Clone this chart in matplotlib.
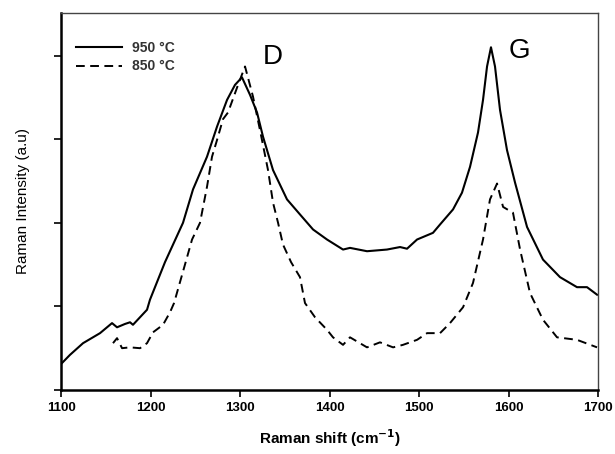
import matplotlib
matplotlib.use("Agg")
import matplotlib.pyplot as plt

plt.rcParams['font.family'] = ['Liberation Sans', 'DejaVu Sans']

# 950 °C spectrum
shift_950 = [1100, 1110, 1124.6, 1143.6, 1157.0, 1162.6, 1171.5, 1177.1, 1180.4, 1196.1,
             1199.4, 1216.2, 1236.3, 1247.5, 1263.1, 1274.3, 1285.5, 1294.4, 1302.2, 1311.2,
             1319.0, 1325.7, 1336.9, 1352.5, 1367.0, 1381.6, 1397.2, 1415.1, 1422.9, 1441.9,
             1464.2, 1478.8, 1486.6, 1497.8, 1515.6, 1523.5, 1538.0, 1548.0, 1557.0, 1565.9,
             1571.5, 1576.0, 1580.4, 1584.9, 1590.5, 1598.3, 1607.3, 1620.7, 1638.5, 1657.5,
             1676.5, 1687.7, 1698.9]
int_950 = [0.31, 0.42, 0.56, 0.68, 0.80, 0.75, 0.79, 0.81, 0.78, 0.96,
           1.08, 1.53, 2.00, 2.40, 2.79, 3.15, 3.47, 3.65, 3.74, 3.53,
           3.32, 3.03, 2.63, 2.28, 2.10, 1.92, 1.80, 1.68, 1.70, 1.66,
           1.68, 1.71, 1.69, 1.80, 1.88, 1.98, 2.16, 2.36, 2.67, 3.08,
           3.47, 3.87, 4.10, 3.87, 3.35, 2.87, 2.48, 1.95, 1.56, 1.35,
           1.23, 1.23, 1.14]

# 850 °C spectrum
shift_850 = [1158.1, 1162.6, 1168.2, 1177.1, 1188.3, 1196.1, 1202.8, 1214.0, 1221.8, 1226.3,
             1238.5, 1246.4, 1255.3, 1263.1, 1268.7, 1274.3, 1281.0, 1286.6, 1297.8, 1305.6,
             1314.5, 1322.3, 1331.3, 1336.9, 1342.5, 1348.0, 1357.0, 1367.0, 1372.6, 1383.8,
             1397.2, 1403.9, 1415.1, 1422.9, 1441.9, 1456.4, 1471.0, 1482.1, 1497.8, 1509.0,
             1523.5, 1534.6, 1549.2, 1560.3, 1571.5, 1579.3, 1587.2, 1593.9, 1605.0, 1612.9,
             1624.0, 1638.5, 1654.2, 1676.5, 1698.9]
int_850 = [0.56, 0.62, 0.50, 0.51, 0.50, 0.56, 0.69, 0.78, 0.93, 1.04,
           1.50, 1.80, 2.00, 2.43, 2.79, 2.99, 3.24, 3.32, 3.65, 3.87,
           3.51, 3.11, 2.63, 2.24, 2.00, 1.74, 1.53, 1.35, 1.04, 0.87,
           0.72, 0.63, 0.54, 0.63, 0.51, 0.57, 0.51, 0.54, 0.60, 0.68,
           0.68, 0.80, 0.99, 1.28, 1.80, 2.28, 2.47, 2.19, 2.12, 1.68,
           1.16, 0.84, 0.63, 0.60, 0.51]

x_ticks = [1100, 1200, 1300, 1400, 1500, 1600, 1700]
y_ticks = [0, 1, 2, 3, 4]

fig = plt.figure(figsize=(6.15, 4.54), dpi=100)
ax = fig.add_axes([0.0992, 0.141, 0.8732, 0.8304])

ax.plot(shift_950, int_950, color='black', lw=1.5, label='950 °C')
ax.plot(shift_850, int_850, color='black', lw=1.4, linestyle=(0, (4.5, 2.8)), label='850 °C')

ax.set_xlim(1100, 1700)
ax.set_ylim(0, 4.51)
ax.set_xticks(x_ticks)
ax.set_yticks(y_ticks)
ax.set_yticklabels([])
ax.tick_params(direction='out', length=5, width=1.2, color='black')
for lbl in ax.get_xticklabels():
    lbl.set_fontweight('bold')
    lbl.set_fontsize(9.5)

for s in ['left', 'bottom']:
    ax.spines[s].set_linewidth(1.8)
    ax.spines[s].set_color('black')
for s in ['top', 'right']:
    ax.spines[s].set_linewidth(1.0)
    ax.spines[s].set_color('#444444')

ax.set_xlabel('Raman shift (cm$^{\\mathbf{-1}}$)', fontsize=11, fontweight='bold', labelpad=10)
ax.set_ylabel('Raman Intensity (a.u)', fontsize=11, labelpad=14)

ax.text(1325, 3.98, 'D', fontsize=20, ha='left', va='center')
ax.text(1600, 4.06, 'G', fontsize=20, ha='left', va='center')

leg = ax.legend(loc='upper left', bbox_to_anchor=(0.028, 0.925), frameon=False,
                prop={'size': 10, 'weight': 'bold'}, borderaxespad=0, borderpad=0,
                handlelength=3.3, handletextpad=0.7, labelspacing=0.3)
for t in leg.get_texts():
    t.set_color('#333333')

fig.savefig('out.png', dpi=100)
